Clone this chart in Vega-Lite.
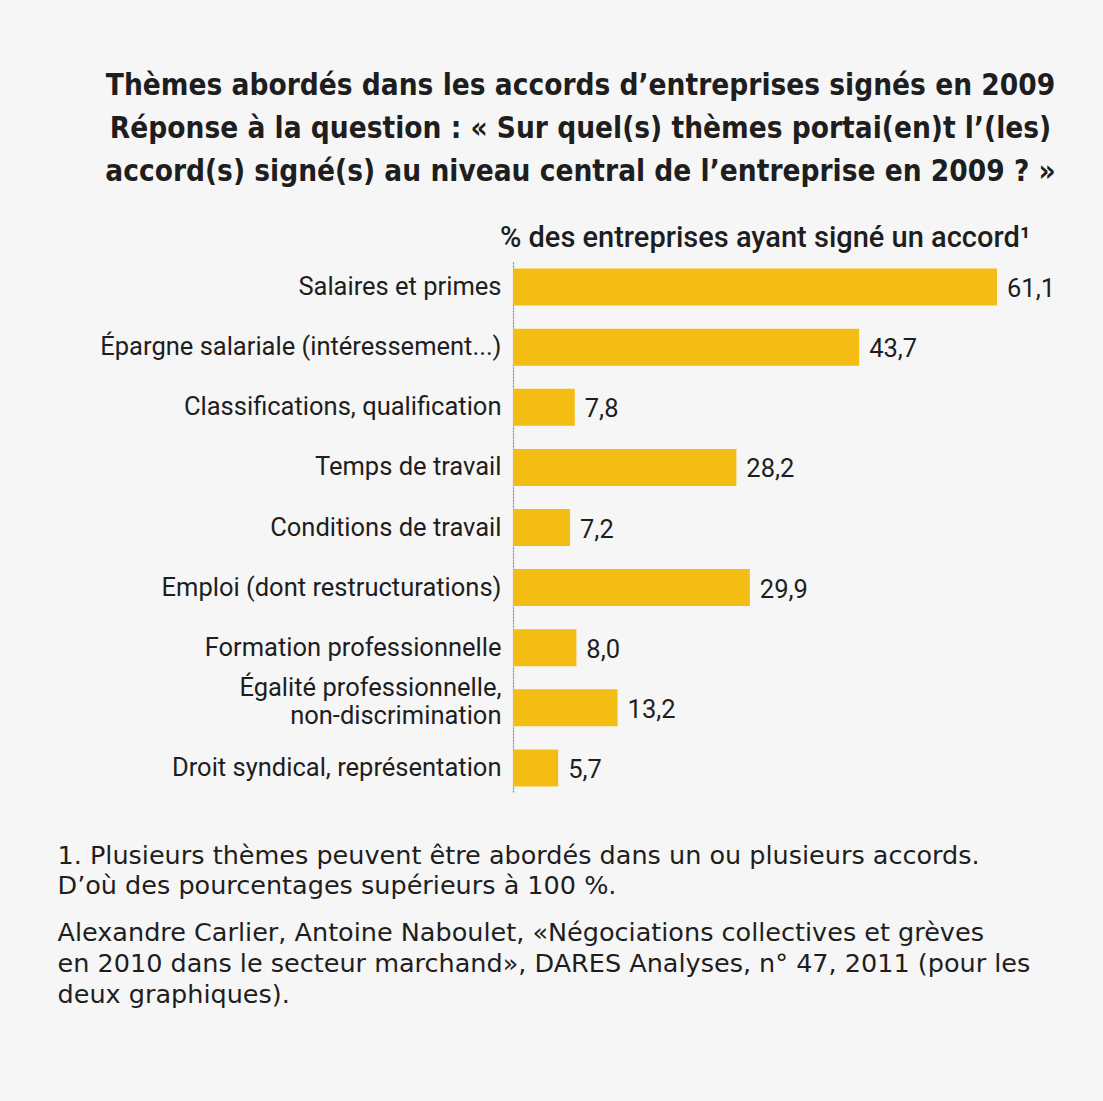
{
  "$schema": "https://vega.github.io/schema/vega-lite/v6.json",
  "autosize": "none",
  "width": 541,
  "height": 531,
  "padding": {"left": 513, "top": 262, "right": 49, "bottom": 308},
  "background": "#f6f6f6",
  "title": {
    "text": ["Thèmes abordés dans les accords d’entreprises signés en 2009", "Réponse à la question : « Sur quel(s) thèmes portai(en)t l’(les)", "accord(s) signé(s) au niveau central de l’entreprise en 2009 ? »"],
    "anchor": "middle",
    "frame": "group",
    "dx": -203,
    "font": "DejaVu Sans Condensed, sans-serif",
    "fontSize": 29.5,
    "fontWeight": "bold",
    "lineHeight": 43,
    "color": "#1e1e1e",
    "offset": 36
  },
  "data": {
    "values": [
      {"theme": "Salaires et primes", "pct": 61.1},
      {"theme": "Épargne salariale (intéressement...)", "pct": 43.7},
      {"theme": "Classifications, qualification", "pct": 7.8},
      {"theme": "Temps de travail", "pct": 28.2},
      {"theme": "Conditions de travail", "pct": 7.2},
      {"theme": "Emploi (dont restructurations)", "pct": 29.9},
      {"theme": "Formation professionnelle", "pct": 8.0},
      {"theme": "Égalité professionnelle, non-discrimination", "pct": 13.2},
      {"theme": "Droit syndical, représentation", "pct": 5.7}
    ]
  },
  "encoding": {
    "y": {
      "field": "theme",
      "type": "nominal",
      "sort": null,
      "scale": {"paddingInner": 0.385, "paddingOuter": 0.11},
      "axis": {
        "title": ["Alexandre Carlier, Antoine Naboulet, «Négociations collectives et grèves", "en 2010 dans le secteur marchand», DARES Analyses, n° 47, 2011 (pour les", "deux graphiques)."],
        "titleFont": "DejaVu Sans, sans-serif",
        "titleFontSize": 25.5,
        "titleFontWeight": "normal",
        "titleColor": "#1e1e1e",
        "titleLineHeight": 31,
        "titleAngle": 0,
        "titleAlign": "left",
        "titleBaseline": "middle",
        "titleX": -456,
        "titleY": 670,
        "ticks": false,
        "domain": true,
        "domainColor": "#888888",
        "domainWidth": 1.2,
        "domainDash": [2, 1],
        "labelFont": "Roboto, sans-serif",
        "labelFontSize": 25.5,
        "labelColor": "#1e1e1e",
        "labelPadding": 12,
        "labelLimit": 500,
        "labelLineHeight": 28,
        "labelOffset": {"condition": {"test": "datum.value == 'Égalité professionnelle, non-discrimination'", "value": -20}, "value": 0},
        "labelExpr": "datum.value == 'Égalité professionnelle, non-discrimination' ? ['Égalité professionnelle,', 'non-discrimination'] : datum.value"
      }
    },
    "x": {
      "field": "pct",
      "type": "quantitative",
      "scale": {"domain": [0, 68.3], "nice": false}
    }
  },
  "layer": [
    {
      "mark": {"type": "bar", "color": "#F5BC14"},
      "encoding": {
        "x": {
          "field": "pct",
          "type": "quantitative",
          "axis": {
            "orient": "top",
            "title": "% des entreprises ayant signé un accord¹",
            "titleFont": "Roboto, sans-serif",
            "titleFontSize": 29,
            "titleFontWeight": 500,
            "titleColor": "#1e1e1e",
            "titleAnchor": "end",
            "titleAlign": "right",
            "titleX": 517,
            "titlePadding": 10,
            "labels": false,
            "ticks": false,
            "domain": false,
            "grid": false
          }
        }
      }
    },
    {
      "mark": {
        "type": "text",
        "align": "left",
        "baseline": "middle",
        "dx": 10,
        "dy": 2,
        "font": "Roboto, sans-serif",
        "fontSize": 25.5,
        "color": "#1e1e1e"
      },
      "encoding": {
        "text": {"field": "pct", "type": "quantitative", "format": ".1f", "formatType": "number"},
        "x": {
          "field": "pct",
          "type": "quantitative",
          "axis": {
            "orient": "bottom",
            "title": ["1. Plusieurs thèmes peuvent être abordés dans un ou plusieurs accords.", "D’où des pourcentages supérieurs à 100 %."],
            "titleFont": "DejaVu Sans, sans-serif",
            "titleFontSize": 25.5,
            "titleFontWeight": "normal",
            "titleColor": "#1e1e1e",
            "titleLineHeight": 30,
            "titleAnchor": "start",
            "titleAlign": "left",
            "titleX": -456,
            "titlePadding": 50,
            "labels": false,
            "ticks": false,
            "domain": false,
            "grid": false
          }
        }
      }
    }
  ],
  "resolve": {"axis": {"x": "independent"}},
  "config": {
    "view": {"stroke": null},
    "locale": {"number": {"decimal": ",", "thousands": " ", "grouping": [3], "currency": ["", " €"]}}
  }
}
